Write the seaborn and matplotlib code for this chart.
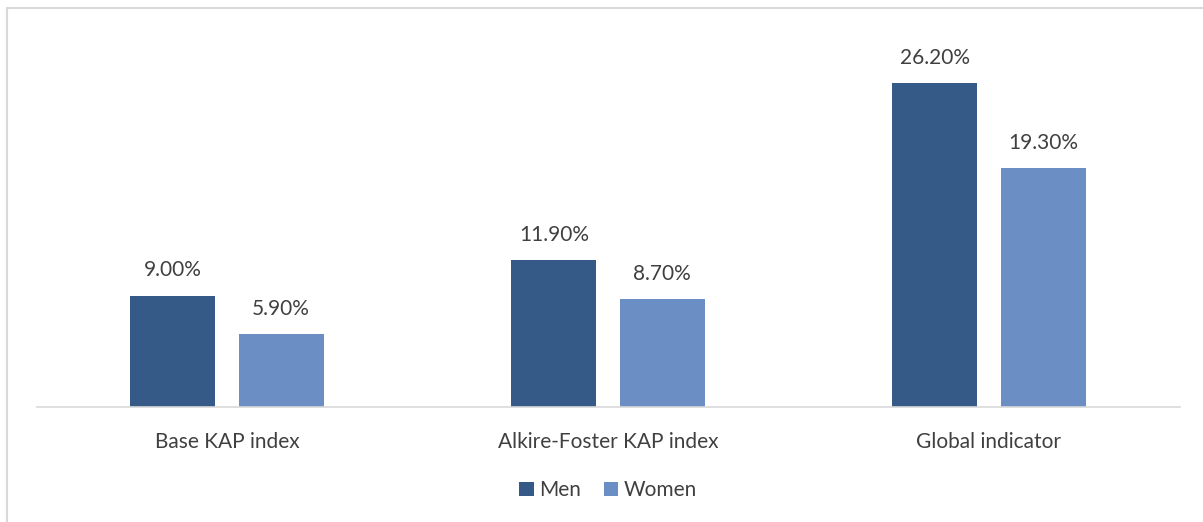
import matplotlib
matplotlib.use("Agg")
import matplotlib.pyplot as plt
import seaborn as sns
import pandas as pd
from matplotlib.patches import Rectangle

categories = ["Base KAP index", "Alkire-Foster KAP index", "Global indicator"]
men = [9.0, 11.9, 26.2]
women = [5.9, 8.7, 19.3]
series = ["Men", "Women"]
colors = ["#365A87", "#6B8FC4"]

df = pd.DataFrame({
    "category": categories * 2,
    "value": men + women,
    "series": [series[0]] * 3 + [series[1]] * 3,
})

sns.set_theme(style="white")
plt.rcParams["font.family"] = ["Lato", "DejaVu Sans"]

fig = plt.figure(figsize=(12.03, 5.22), dpi=100)
ax = fig.add_axes([36.5 / 1203, 1 - 407 / 522, (1179.5 - 36.5) / 1203, (407 - 36) / 522])

sns.barplot(data=df, x="category", y="value", hue="series", palette=colors,
            width=0.567, gap=0.213, ax=ax, saturation=1, edgecolor="none")

ax.set_ylim(0, 30)
ax.set_xlim(-0.5, 2.5)
ax.set_xlabel("")
ax.set_ylabel("")
ax.set_yticks([])
for s in ["top", "right", "left"]:
    ax.spines[s].set_visible(False)
ax.spines["bottom"].set_color("#d9d9d9")
ax.spines["bottom"].set_linewidth(1.2)
ax.tick_params(axis="x", length=0, pad=18, labelsize=15, labelcolor="#404040")

for cont in ax.containers:
    ax.bar_label(cont, labels=[f"{v:.2f}%" for v in cont.datavalues],
                 padding=11, fontsize=15, color="#404040")

leg = ax.legend(loc="center", bbox_to_anchor=(0.5, -0.225), ncol=2, frameon=False,
                fontsize=15, handlelength=0.7, handleheight=0.7,
                handletextpad=0.25, columnspacing=1.1)
for t in leg.get_texts():
    t.set_color("#404040")

fig.patches.append(Rectangle((6.5 / 1203, -0.1), 1.2, 1 - 7.5 / 522 + 0.1,
                             transform=fig.transFigure, fill=False,
                             edgecolor="#d9d9d9", linewidth=1.5, zorder=-1))

fig.savefig("out.png", dpi=100, facecolor="white")
